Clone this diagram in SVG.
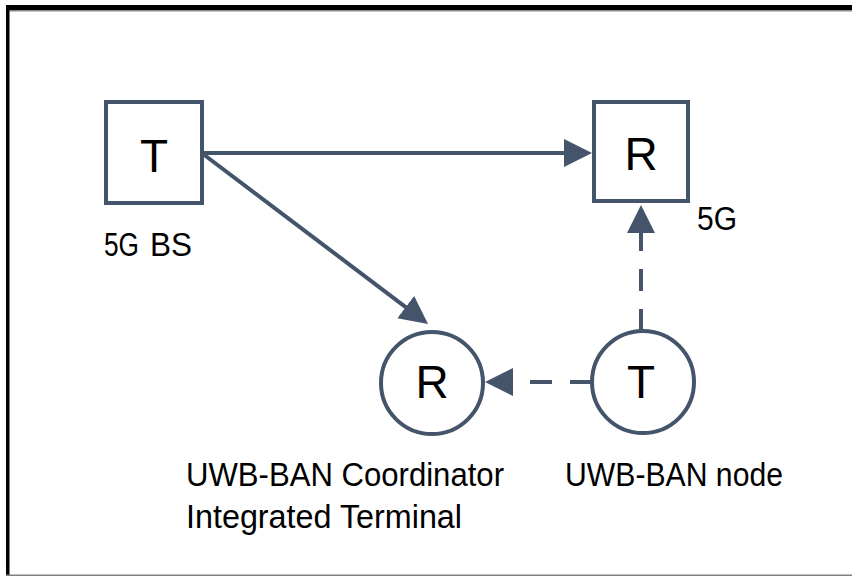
<svg xmlns="http://www.w3.org/2000/svg" width="852" height="576" viewBox="0 0 852 576">
  <defs>
    <style>
      .node { fill: #ffffff; stroke: #44546a; stroke-width: 4; }
      .edge { stroke: #44546a; stroke-width: 4; fill: none; }
      .dash { stroke-dasharray: 22 18; }
      .big { font-family: "Liberation Sans", Arial, sans-serif; font-size: 46px; fill: #000000; text-anchor: middle; }
      .lbl { font-family: "Liberation Sans", Arial, sans-serif; font-size: 33px; fill: #000000; }
    </style>
    <marker id="arrow" markerUnits="userSpaceOnUse" markerWidth="30" markerHeight="30" refX="2" refY="14" orient="auto">
      <path d="M0,0 L28,14 L0,28 Z" fill="#44546a"/>
    </marker>
  </defs>
  <rect x="0" y="0" width="852" height="576" fill="#ffffff"/>
  <g id="frame">
    <rect x="6" y="5" width="846" height="5" fill="#000000"/>
    <rect x="6" y="10" width="846" height="1.5" fill="#8a8a8a"/>
    <rect x="6" y="5" width="3.5" height="571" fill="#000000"/>
    <rect x="6" y="574.5" width="846" height="1.5" fill="#808080"/>
  </g>
  <g id="connectors">
    <line class="edge" x1="202" y1="153" x2="566" y2="153" marker-end="url(#arrow)"/>
    <line class="edge" x1="203" y1="154" x2="407.3" y2="308.3" marker-end="url(#arrow)"/>
    <line class="edge dash" x1="641" y1="331" x2="641" y2="231" marker-end="url(#arrow)"/>
    <line class="edge dash" x1="592" y1="382" x2="511" y2="382" marker-end="url(#arrow)"/>
  </g>
  <g id="bs-t">
    <rect class="node" x="106" y="102" width="96" height="101"/>
    <text class="big" x="154" y="172">T</text>
    <text class="lbl" x="104" y="256" textLength="35" lengthAdjust="spacingAndGlyphs">5G</text>
    <text class="lbl" x="150" y="256" textLength="42" lengthAdjust="spacingAndGlyphs">BS</text>
  </g>
  <g id="5g-r">
    <rect class="node" x="594" y="102" width="94" height="99"/>
    <text class="big" x="641" y="170">R</text>
    <text class="lbl" x="697" y="230" textLength="40" lengthAdjust="spacingAndGlyphs">5G</text>
  </g>
  <g id="coord-r">
    <circle class="node" cx="432" cy="383" r="51"/>
    <text class="big" x="432" y="398">R</text>
    <text class="lbl" x="186" y="486" textLength="318" lengthAdjust="spacingAndGlyphs">UWB-BAN Coordinator</text>
    <text class="lbl" x="186" y="528" textLength="276" lengthAdjust="spacingAndGlyphs">Integrated Terminal</text>
  </g>
  <g id="node-t">
    <circle class="node" cx="643" cy="382" r="51"/>
    <text class="big" x="641" y="398">T</text>
    <text class="lbl" x="565" y="486" textLength="218" lengthAdjust="spacingAndGlyphs">UWB-BAN node</text>
  </g>
</svg>
